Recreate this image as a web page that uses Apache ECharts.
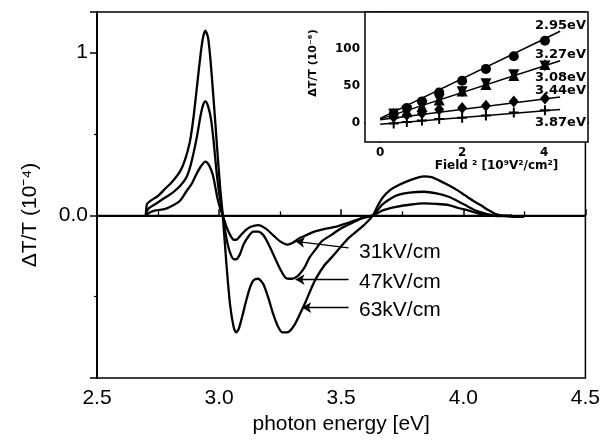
<!DOCTYPE html>
<html><head><meta charset="utf-8">
<script src="https://cdn.jsdelivr.net/npm/echarts@6/dist/echarts.min.js"></script>
<style>html,body{margin:0;padding:0;background:#fff}#c{width:603px;height:440px}</style>
</head><body><div id="c"></div>
<script>
// ---- main panel: photon energy (eV) vs dT/T (1e-4)
const energy63 = [2.70,2.705,2.72,2.75,2.78,2.81,2.84,2.86,2.88,2.895,2.91,2.925,2.935,2.944,2.955,2.965,2.975,2.985,2.995,3.005,3.015,3.03,3.045,3.06,3.07,3.08,3.095,3.11,3.125,3.14,3.16,3.18,3.20,3.22,3.24,3.26,3.275,3.29,3.31,3.33,3.355,3.38,3.40,3.43,3.46,3.50,3.53,3.57,3.60,3.63,3.65,3.67,3.70,3.734,3.78,3.82,3.84,3.87,3.90,3.94,3.975,4.006,4.04,4.074,4.10,4.13,4.17,4.21,4.25];
const signal63 = [0.0,0.07,0.09,0.12,0.165,0.21,0.27,0.34,0.45,0.60,0.80,1.00,1.10,1.136,1.09,0.95,0.76,0.56,0.35,0.16,0.0,-0.30,-0.55,-0.69,-0.72,-0.70,-0.62,-0.53,-0.45,-0.40,-0.39,-0.42,-0.50,-0.60,-0.68,-0.72,-0.72,-0.71,-0.67,-0.61,-0.53,-0.44,-0.38,-0.31,-0.26,-0.19,-0.14,-0.09,-0.05,0.0,0.06,0.11,0.155,0.185,0.215,0.235,0.24,0.235,0.215,0.185,0.155,0.124,0.09,0.06,0.035,0.01,-0.005,-0.01,-0.01];

const energy47 = [2.70,2.71,2.74,2.77,2.81,2.84,2.865,2.88,2.895,2.91,2.925,2.935,2.944,2.955,2.967,2.978,2.988,3.0,3.015,3.03,3.045,3.06,3.07,3.085,3.10,3.12,3.14,3.16,3.18,3.20,3.225,3.25,3.27,3.285,3.30,3.315,3.33,3.35,3.37,3.40,3.42,3.46,3.50,3.54,3.58,3.63,3.666,3.70,3.73,3.78,3.84,3.89,3.94,3.98,4.02,4.05,4.08,4.12,4.16,4.20];
const signal47 = [0.0,0.04,0.07,0.10,0.14,0.18,0.23,0.29,0.38,0.49,0.62,0.68,0.70,0.67,0.59,0.45,0.29,0.14,0.0,-0.14,-0.23,-0.27,-0.27,-0.24,-0.18,-0.13,-0.10,-0.10,-0.12,-0.17,-0.25,-0.33,-0.38,-0.39,-0.39,-0.38,-0.36,-0.32,-0.26,-0.20,-0.16,-0.12,-0.08,-0.05,-0.02,0.0,0.063,0.10,0.124,0.14,0.145,0.135,0.114,0.085,0.053,0.03,0.015,0.0,-0.005,0.0];

const energy31 = [2.70,2.72,2.74,2.78,2.81,2.84,2.865,2.89,2.906,2.925,2.944,2.958,2.974,2.985,2.994,3.005,3.015,3.03,3.045,3.06,3.07,3.09,3.11,3.13,3.16,3.19,3.22,3.25,3.28,3.30,3.33,3.36,3.39,3.43,3.48,3.52,3.56,3.60,3.63,3.67,3.72,3.78,3.84,3.89,3.94,3.98,4.02,4.06,4.10,4.14,4.18];
const signal31 = [0.0,0.02,0.03,0.04,0.06,0.09,0.145,0.20,0.25,0.30,0.33,0.31,0.25,0.17,0.10,0.04,0.0,-0.07,-0.12,-0.15,-0.15,-0.12,-0.09,-0.07,-0.06,-0.08,-0.12,-0.16,-0.18,-0.17,-0.14,-0.12,-0.10,-0.085,-0.07,-0.05,-0.03,-0.01,0.0,0.03,0.05,0.065,0.073,0.07,0.063,0.045,0.03,0.012,0.0,-0.005,0.0];

const fieldLabels = ['31kV/cm','47kV/cm','63kV/cm'];

// ---- inset: Field^2 (1e9 V^2/cm^2) vs dT/T (1e-6)
const fieldSq = [0.33,0.65,1.02,1.44,2.0,2.58,3.26,4.02];
const dt295 = [12,20,29,41,57,73,90,111];
const dt327 = [13,15,22,31,43,52,64,79];
const dt308 = [12,16,23,32,42,53,65,77];
const dt344 = [8,11,13,18,20,23,29,33];
const dt387 = [-1,1,3,5,7,10,14,17];
const fitX = [0,4.39];
const fit295 = [6,124];
const fit327 = [5,84];
const fit344 = [4,35];
const fit387 = [-2,18];
const insetLabels = ['2.95eV','3.27eV','3.08eV','3.44eV','3.87eV'];
const insetXTicks = [0,2,4];
const insetYTicks = [0,50,100];

const zip = (a,b) => a.map((x,i)=>[x,b[i]]);
const chart = echarts.init(document.getElementById('c'), null, {renderer:'canvas'});
const F = 'Liberation Sans, Arial, sans-serif';
const FB = 'DejaVu Sans, sans-serif';
const plus = 'path://M4,0H6V4H10V6H6V10H4V6H0V4H4Z';

function mainLine(name, ex, sy, arrow){
  return {
    name, type:'line', xAxisIndex:0, yAxisIndex:0, data: zip(ex,sy),
    showSymbol:false, smooth:0.25, lineStyle:{color:'#000', width:2.3}, z:3,
    markLine: {
      silent:true, symbol:['none','arrow'], symbolSize:[8,9], label:{show:false},
      lineStyle:{color:'#000', width:1.3, type:'solid'},
      data: arrow
    }
  };
}
const dot = {color:'#000', opacity:1};

const option = {
  animation:false,
  backgroundColor:'#fff',
  grid:[
    {left:97, right:15, top:12, bottom:59, show:true, borderColor:'#000', borderWidth:1.5, backgroundColor:'transparent'},
    {left:365, right:15, top:12, bottom:298, show:true, borderColor:'#000', borderWidth:1.5, backgroundColor:'#fff', z:5}
  ],
  xAxis:[
    {gridIndex:0, type:'value', min:2.5, max:4.5, interval:0.5,
     axisLine:{lineStyle:{color:'#000', width:1.8}},
     axisTick:{inside:true, length:6, lineStyle:{color:'#000', width:1.5}},
     minorTick:{show:true, splitNumber:2, length:4, lineStyle:{color:'#000', width:1.3}},
     splitLine:{show:false},
     axisLabel:{color:'#000', fontSize:21, fontFamily:F, margin:10, formatter:v=>v.toFixed(1)},
     name:'photon energy [eV]', nameLocation:'middle', nameGap:36,
     nameTextStyle:{color:'#000', fontSize:21, fontFamily:F}},
    {gridIndex:1, type:'value', min:-0.37, max:5.07,
     axisLine:{lineStyle:{color:'#000', width:2}},
     axisTick:{inside:true, length:3, customValues:[0,0.25,0.5,0.75,1,1.25,1.5,1.75,2,2.25,2.5,2.75,3,3.25,3.5,3.75,4,4.25,4.5,4.75,5], lineStyle:{color:'#000', width:1.5}},
     splitLine:{show:false},
     axisLabel:{color:'#000', fontSize:12, fontWeight:'bold', fontFamily:FB, margin:5, customValues:insetXTicks},
     name:'Field ² [10⁹V²/cm²]', nameLocation:'middle', nameGap:17,
     nameTextStyle:{color:'#000', fontSize:12, fontWeight:'bold', fontFamily:FB, padding:[0,0,0,40]}}
  ],
  yAxis:[
    {gridIndex:0, type:'value', min:-1, max:1.25, interval:1,
     axisLine:{lineStyle:{color:'#000', width:1.8}},
     axisTick:{inside:false, length:7, lineStyle:{color:'#000', width:1.5}},
     minorTick:{show:true, splitNumber:2, length:3, lineStyle:{color:'#000', width:1.2}},
     splitLine:{show:false},
     axisLabel:{color:'#000', fontSize:21, fontFamily:F, margin:9, formatter:v=> v===1?'1':(v===0?'0.0':'')},
     name:'ΔT/T (10⁻⁴)', nameLocation:'middle', nameGap:56, nameRotate:90,
     nameTextStyle:{color:'#000', fontSize:21, fontFamily:F, padding:[0,40,0,0]}},
    {gridIndex:1, type:'value', min:-26, max:150,
     axisLine:{lineStyle:{color:'#000', width:2}},
     axisTick:{inside:false, length:3, customValues:[0,25,50,75,100,125], lineStyle:{color:'#000', width:1.5}},
     splitLine:{show:false},
     axisLabel:{color:'#000', fontSize:12, fontWeight:'bold', fontFamily:FB, margin:5, customValues:insetYTicks},
     name:'ΔT/T (10⁻⁶)', nameLocation:'middle', nameGap:46, nameRotate:90,
     nameTextStyle:{color:'#000', fontSize:11, fontWeight:'bold', fontFamily:FB, padding:[0,0,0,28]}}
  ],
  series:[
    mainLine('31kV/cm', energy31, signal31, [
      [{coord:[3.53,-0.20]},{coord:[3.313,-0.16]}]
    ]),
    mainLine('47kV/cm', energy47, signal47, [
      [{coord:[3.53,-0.395]},{coord:[3.313,-0.395]}]
    ]),
    mainLine('63kV/cm', energy63, signal63, [
      [{coord:[3.53,-0.567]},{coord:[3.34,-0.567]}]
    ]),
    {type:'line', xAxisIndex:0, yAxisIndex:0, data:[[2.5,0],[4.5,0]], showSymbol:false,
     lineStyle:{color:'#000', width:1.2}, z:2},
    // inset fits
    {type:'line', xAxisIndex:1, yAxisIndex:1, data:zip(fitX,fit295), showSymbol:false, lineStyle:{color:'#000',width:1.5}, z:6},
    {type:'line', xAxisIndex:1, yAxisIndex:1, data:zip(fitX,fit327), showSymbol:false, lineStyle:{color:'#000',width:1.5}, z:6},
    {type:'line', xAxisIndex:1, yAxisIndex:1, data:zip(fitX,fit344), showSymbol:false, lineStyle:{color:'#000',width:1.5}, z:6},
    {type:'line', xAxisIndex:1, yAxisIndex:1, data:zip(fitX,fit387), showSymbol:false, lineStyle:{color:'#000',width:1.5}, z:6},
    // inset points
    {name:'2.95eV', type:'scatter', xAxisIndex:1, yAxisIndex:1, data:zip(fieldSq,dt295), symbol:'circle', symbolSize:10, itemStyle:dot, z:7},
    {name:'3.27eV', type:'scatter', xAxisIndex:1, yAxisIndex:1, data:zip(fieldSq,dt327), symbol:'triangle', symbolSize:11, itemStyle:dot, z:7},
    {name:'3.08eV', type:'scatter', xAxisIndex:1, yAxisIndex:1, data:zip(fieldSq,dt308), symbol:'triangle', symbolRotate:180, symbolSize:11, itemStyle:dot, z:7},
    {name:'3.44eV', type:'scatter', xAxisIndex:1, yAxisIndex:1, data:zip(fieldSq,dt344), symbol:'diamond', symbolSize:[10,12], itemStyle:dot, z:7},
    {name:'3.87eV', type:'scatter', xAxisIndex:1, yAxisIndex:1, data:zip(fieldSq,dt387), symbol:plus, symbolSize:10, itemStyle:dot, z:7}
  ]
};
chart.setOption(option);

const labelY = [252, 282, 310];
const insetLabelY = [26, 55, 78, 91, 123];
const g = [];
fieldLabels.forEach((t,i)=>g.push({type:'text', x:359, y:labelY[i], z:10,
  style:{text:t, font:'21px '+F, fill:'#000', textVerticalAlign:'middle'}}));
insetLabels.forEach((t,i)=>g.push({type:'text', x:586, y:insetLabelY[i], z:10,
  style:{text:t, font:'bold 13px '+FB, fill:'#000', textAlign:'right', textVerticalAlign:'middle'}}));
chart.setOption({graphic:g});
</script>
</body></html>
